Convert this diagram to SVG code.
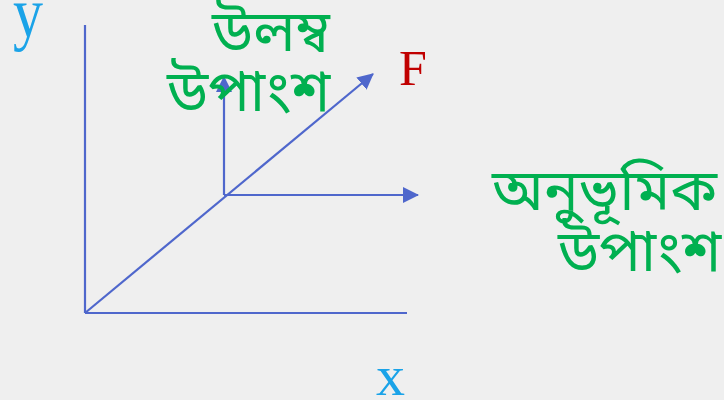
<svg xmlns="http://www.w3.org/2000/svg" width="724" height="400" viewBox="0 0 724 400">
<style>
.ln{stroke:#4f67cc;stroke-width:2.2;fill:none}
.bn{font-family:"Noto Sans Bengali","Noto Sans","Lohit Bengali","DejaVu Sans",sans-serif;fill:#00b050;font-size:58px}
.ser{font-family:"Liberation Serif","Times New Roman",serif}
</style>
<defs>
<marker id="ah" viewBox="0 0 16 16" refX="15" refY="8" markerWidth="16" markerHeight="16" markerUnits="userSpaceOnUse" orient="auto">
<path d="M0,0 L16,8 L0,16 z" fill="#4f67cc"/>
</marker>
</defs>
<rect width="724" height="400" fill="#efefef"/>
<g id="connectors">
<line class="ln" x1="85" y1="25" x2="85" y2="313"/>
<line class="ln" x1="85" y1="313" x2="407" y2="313"/>
<line class="ln" x1="85" y1="313" x2="373" y2="74" marker-end="url(#ah)"/>
<line class="ln" x1="224" y1="195" x2="224" y2="77" marker-end="url(#ah)"/>
<line class="ln" x1="224" y1="195" x2="418" y2="195" marker-end="url(#ah)"/>
</g>
<g id="label-y"><text class="ser" transform="translate(13,37) scale(1,1.2)" font-size="60" fill="#1aa3e8">y</text></g>
<g id="label-x"><text class="ser" x="376" y="395" font-size="58" fill="#1aa3e8">x</text></g>
<g id="label-F"><text class="ser" x="399" y="85" font-size="50" fill="#c00000">F</text></g>
<g id="label-vertical">
<text class="bn" x="212" y="51">উলম্ব</text>
<text class="bn" x="167" y="111">উপাংশ</text>
</g>
<g id="label-horizontal">
<text class="bn" x="492" y="210">অনুভূমিক</text>
<text class="bn" x="558" y="271">উপাংশ</text>
</g>
</svg>
